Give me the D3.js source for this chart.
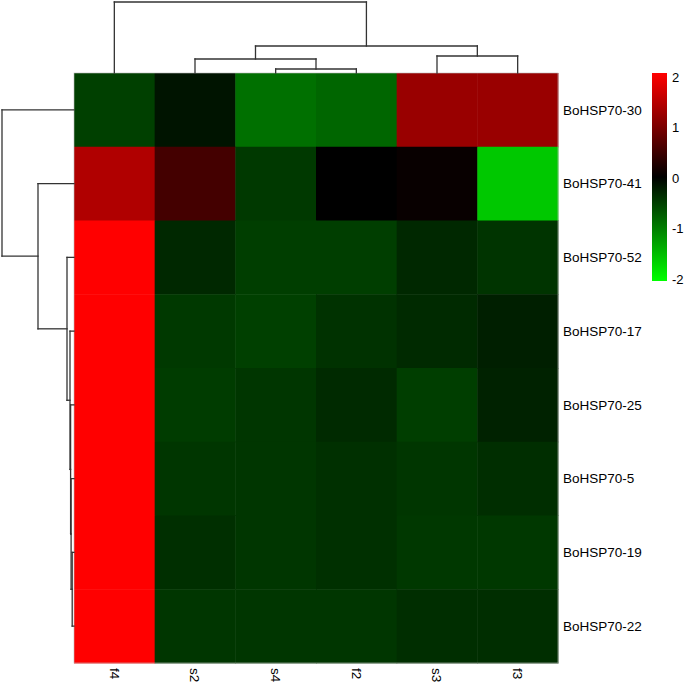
<!DOCTYPE html>
<html><head><meta charset="utf-8">
<script src="https://cdn.jsdelivr.net/npm/d3@7/dist/d3.min.js"></script>
<style>body{margin:0;background:#fff;}svg{display:block;}text{font-family:"Liberation Sans",Arial,Helvetica,sans-serif;fill:#000;}</style>
</head><body>
<script>
const columns = ["f4","s2","s4","f2","s3","f3"];
const rows = ["BoHSP70-30","BoHSP70-41","BoHSP70-52","BoHSP70-17","BoHSP70-25","BoHSP70-5","BoHSP70-19","BoHSP70-22"];
const vals_30 = [-0.50,-0.16,-0.88,-0.80, 1.20, 1.20];
const vals_41 = [ 1.38, 0.53,-0.45, 0.00, 0.06,-1.57];
const vals_52 = [ 2.04,-0.31,-0.49,-0.49,-0.31,-0.41];
const vals_17 = [ 2.04,-0.45,-0.50,-0.39,-0.33,-0.24];
const vals_25 = [ 2.04,-0.47,-0.42,-0.33,-0.49,-0.27];
const vals_5  = [ 2.04,-0.42,-0.42,-0.38,-0.42,-0.36];
const vals_19 = [ 2.04,-0.37,-0.42,-0.38,-0.44,-0.44];
const vals_22 = [ 2.04,-0.42,-0.42,-0.42,-0.36,-0.36];
const matrix = [vals_30,vals_41,vals_52,vals_17,vals_25,vals_5,vals_19,vals_22];
const legendTicks = [2,1,0,-1,-2];
// dendrograms: {h: merge height, c: [children]}
const colTree = {h:71, c:["f4", {h:27, c:[{h:14, c:["s2",{h:4, c:["s4","f2"]}]}, {h:17, c:["s3","f3"]}]}]};
const rowTree = {h:72, c:["BoHSP70-30", {h:36, c:["BoHSP70-41", {h:7, c:["BoHSP70-52",
  {h:4, c:["BoHSP70-17", {h:3.4, c:["BoHSP70-25", {h:2.9, c:["BoHSP70-5", {h:1.8, c:["BoHSP70-19","BoHSP70-22"]}]}]}]}]}]}]};

const W=685,H=684;
const svg=d3.select("body").append("svg").attr("width",W).attr("height",H);
const hx={l:74,r:558,t:73,b:663};
const x=d3.scaleBand().domain(columns).range([hx.l,hx.r]);
const y=d3.scaleBand().domain(rows).range([hx.t,hx.b]);
const color=d3.scaleLinear().domain([-2,0,2]).range(["#00ff00","#000000","#ff0000"]).clamp(true);

const cells=[];
matrix.forEach((r,i)=>r.forEach((v,j)=>cells.push({row:rows[i],col:columns[j],v})));
svg.append("g").selectAll("rect").data(cells).join("rect")
  .attr("x",d=>x(d.col)).attr("y",d=>y(d.row))
  .attr("width",x.bandwidth()+0.5).attr("height",y.bandwidth()+0.5)
  .attr("fill",d=>color(d.v));
svg.append("rect").attr("x",hx.l).attr("y",hx.t).attr("width",hx.r-hx.l).attr("height",hx.b-hx.t)
  .attr("fill","none").attr("stroke","#bbb").attr("stroke-width",0.6);

// dendrogram drawing
function drawTree(node, posOf, hScale, horizontal, g){
  function rec(n){
    if(typeof n==="string") return {p:posOf(n), h:0};
    const ch=n.c.map(rec);
    const p=d3.mean(ch,d=>d.p);
    const hp=hScale(n.h);
    const pts=[];
    ch.forEach(c=>{pts.push([[c.p,hScale(c.h)],[c.p,hp]]);});
    pts.push([[ch[0].p,hp],[ch[ch.length-1].p,hp]]);
    pts.forEach(s=>{
      const a=horizontal?[s[0][1],s[0][0]]:s[0], b=horizontal?[s[1][1],s[1][0]]:s[1];
      g.append("line").attr("x1",a[0]).attr("y1",a[1]).attr("x2",b[0]).attr("y2",b[1]);
    });
    return {p,h:n.h};
  }
  rec(node);
}
const gTop=svg.append("g").attr("stroke","#333").attr("stroke-width",1.3).attr("stroke-linecap","square");
drawTree(colTree, c=>x(c)+x.bandwidth()/2, d3.scaleLinear().domain([0,71]).range([hx.t,2]), false, gTop);
const gLeft=svg.append("g").attr("stroke","#333").attr("stroke-width",1.3).attr("stroke-linecap","square");
drawTree(rowTree, r=>y(r)+y.bandwidth()/2, d3.scaleLinear().domain([0,72]).range([hx.l,2]), true, gLeft);

// row labels
svg.append("g").selectAll("text").data(rows).join("text")
  .attr("x",563).attr("y",d=>y(d)+y.bandwidth()/2).attr("dy","0.35em")
  .style("font-size","13.5px").text(d=>d);
// column labels
svg.append("g").selectAll("text").data(columns).join("text")
  .attr("transform",d=>`translate(${x(d)+x.bandwidth()/2},668) rotate(90)`)
  .attr("dy","0.35em").style("font-size","13.5px").text(d=>d);

// legend
const defs=svg.append("defs");
const grad=defs.append("linearGradient").attr("id","lg").attr("x1",0).attr("y1",1).attr("x2",0).attr("y2",0);
[-2,-1,0,1,2].forEach(v=>grad.append("stop").attr("offset",(v+2)/4).attr("stop-color",color(v)));
svg.append("rect").attr("x",652).attr("y",73).attr("width",15).attr("height",208).attr("fill","url(#lg)");
const ly=d3.scaleLinear().domain([-2,2]).range([279,77]);
svg.append("g").selectAll("text").data(legendTicks).join("text")
  .attr("x",672).attr("y",d=>ly(d)).attr("dy","0.35em").style("font-size","13px").text(d=>d);
</script>
</body></html>
